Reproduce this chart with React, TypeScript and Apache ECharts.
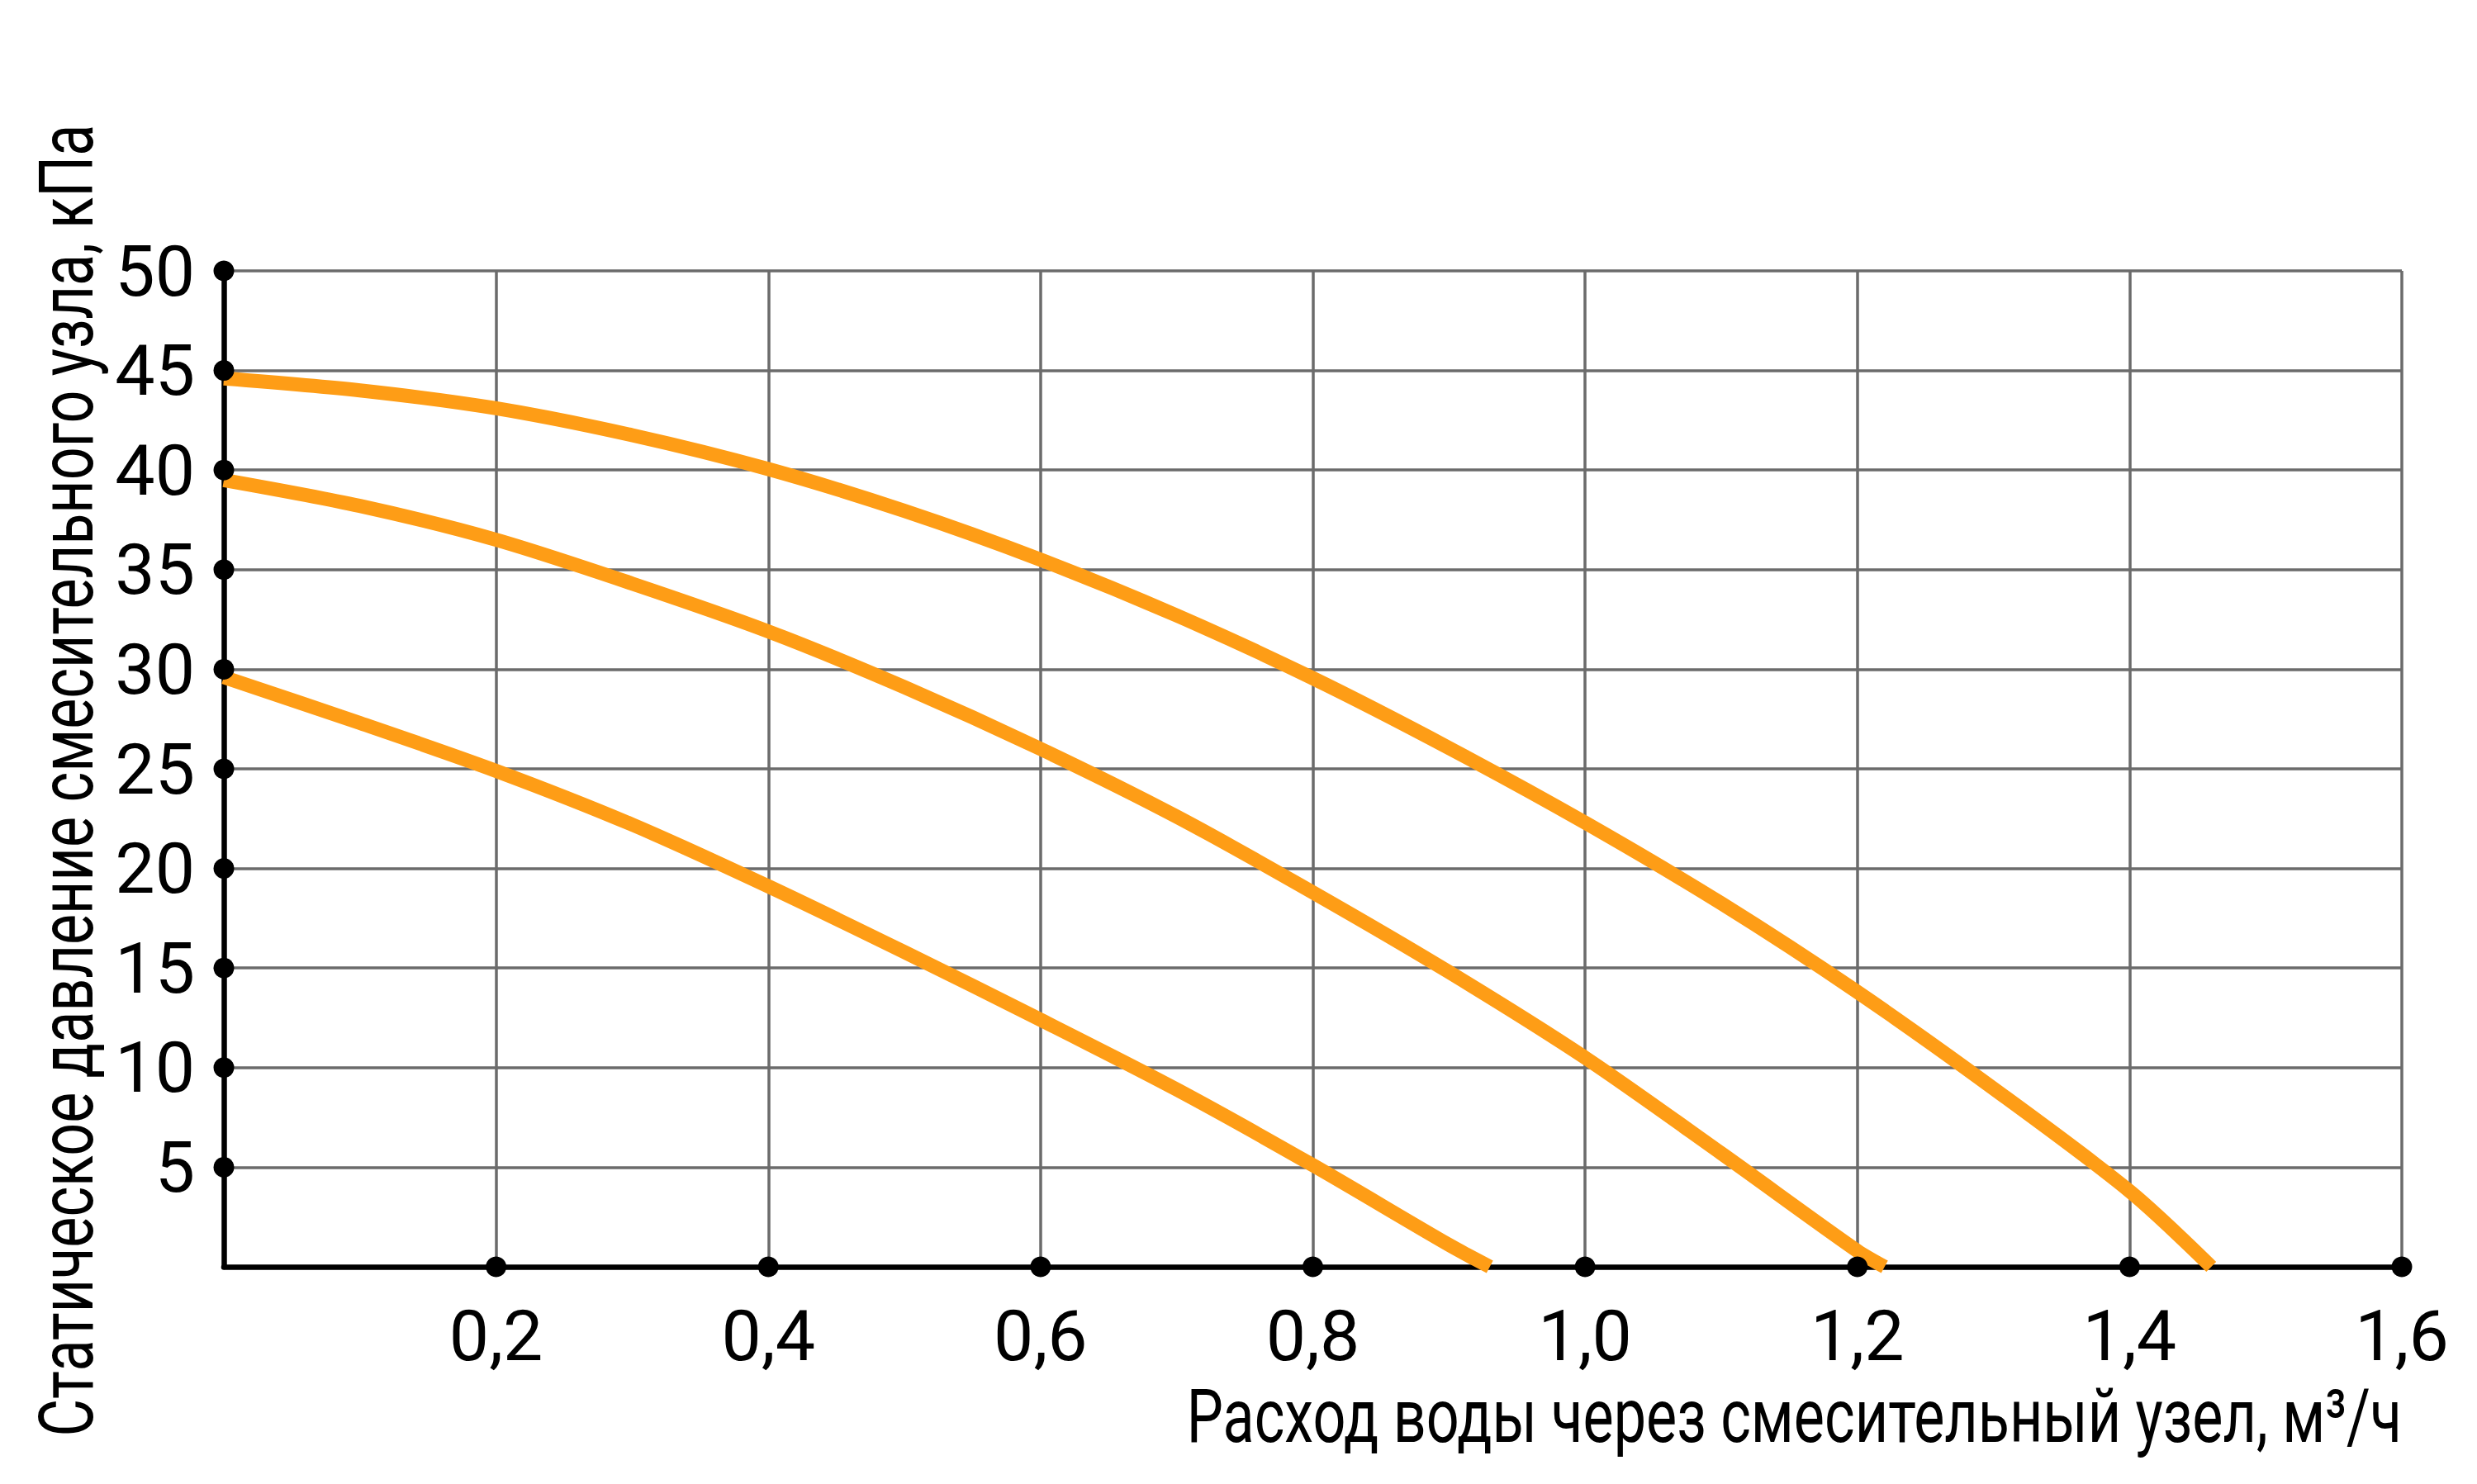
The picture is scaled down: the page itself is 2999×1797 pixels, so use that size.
import React, { useEffect, useRef } from "react";
import * as echarts from "echarts";

const FONT = "Roboto, 'Liberation Sans', sans-serif";

// Axis ticks
const xTicks = [0.2, 0.4, 0.6, 0.8, 1.0, 1.2, 1.4, 1.6];
const yTicks = [5, 10, 15, 20, 25, 30, 35, 40, 45, 50];

// Curve 1 (top)
const flowTop = [0, 0.1, 0.2, 0.3, 0.4, 0.5, 0.6, 0.7, 0.8, 0.9, 1.0, 1.1, 1.2, 1.3, 1.4, 1.46];
const pressTop = [44.6, 44.0, 43.1, 41.75, 40.05, 37.95, 35.5, 32.7, 29.55, 26.05, 22.3, 18.25, 13.8, 8.95, 3.8, 0];

// Curve 2 (middle)
const flowMid = [0, 0.1, 0.2, 0.3, 0.4, 0.5, 0.6, 0.7, 0.8, 0.9, 1.0, 1.1, 1.2, 1.22];
const pressMid = [39.5, 38.2, 36.5, 34.3, 31.9, 29.1, 26.0, 22.6, 18.8, 14.8, 10.5, 5.7, 0.8, 0];

// Curve 3 (bottom)
const flowLow = [0, 0.1, 0.2, 0.3, 0.4, 0.5, 0.6, 0.7, 0.8, 0.9, 0.93];
const pressLow = [29.6, 27.3, 24.9, 22.2, 19.1, 15.8, 12.4, 8.9, 5.1, 1.1, 0];

const yTitle = "Статическое давление смесительного узла, кПа";
const xTitle = "Расход воды через смесительный узел, м³/ч";

const ORANGE = "#FE9D16";
const GRID_GREY = "#6b6b6b";
const TITLE_SIZE = 90;

function zip(xs: number[], ys: number[]) {
  return xs.map((x, i) => [x, ys[i]]);
}

function curve(xs: number[], ys: number[]) {
  return {
    type: "line",
    data: zip(xs, ys),
    symbol: "none",
    smooth: 0.3,
    clip: true,
    lineStyle: { color: ORANGE, width: 17 },
    z: 3,
    silent: true,
  };
}

function measure(text: string, size: number) {
  const c = document.createElement("canvas").getContext("2d");
  if (!c) return text.length * size * 0.5;
  c.font = `${size}px Roboto`;
  return c.measureText(text).width;
}

export default function App() {
  const ref = useRef<HTMLDivElement>(null);
  useEffect(() => {
    document.body.style.margin = "0";
    const chart = echarts.init(ref.current!, null, { renderer: "svg" });
    const dots = yTicks.map((v) => [0, v]).concat(xTicks.map((v) => [v, 0]));
    const yScale = 1590 / measure(yTitle, TITLE_SIZE);
    const xScale = 1472 / measure(xTitle, TITLE_SIZE);
    chart.setOption({
      animation: false,
      backgroundColor: "#ffffff",
      grid: { left: 271, top: 328, right: 91, bottom: 263 },
      xAxis: {
        type: "value",
        min: 0,
        max: 1.6,
        interval: 0.2,
        axisLine: { show: true, onZero: false, lineStyle: { color: "#000", width: 6.5 } },
        axisTick: { show: false },
        splitLine: { show: true, showMinLine: false, lineStyle: { color: GRID_GREY, width: 3.5 } },
        axisLabel: {
          showMinLabel: false,
          margin: 40,
          color: "#000",
          fontFamily: FONT,
          fontSize: 86,
          formatter: (v: number) => v.toFixed(1).replace(".", ","),
        },
      },
      yAxis: {
        type: "value",
        min: 0,
        max: 50,
        interval: 5,
        axisLine: { show: true, onZero: false, lineStyle: { color: "#000", width: 6.5 } },
        axisTick: { show: false },
        splitLine: { show: true, showMinLine: false, lineStyle: { color: GRID_GREY, width: 3.5 } },
        axisLabel: {
          showMinLabel: false,
          margin: 35,
          color: "#000",
          fontFamily: FONT,
          fontSize: 86,
          formatter: (v: number) => String(v),
        },
      },
      graphic: [
        {
          type: "text",
          x: 81,
          y: 945,
          rotation: Math.PI / 2,
          scaleX: yScale,
          style: {
            text: yTitle,
            fill: "#000",
            fontFamily: FONT,
            fontSize: TITLE_SIZE,
            align: "center",
            verticalAlign: "middle",
            textAlign: "center",
            textVerticalAlign: "middle",
          },
        },
        {
          type: "text",
          x: 2908,
          y: 1715,
          scaleX: xScale,
          style: {
            text: xTitle,
            fill: "#000",
            fontFamily: FONT,
            fontSize: TITLE_SIZE,
            align: "right",
            verticalAlign: "middle",
            textAlign: "right",
            textVerticalAlign: "middle",
          },
        },
      ],
      series: [
        curve(flowTop, pressTop),
        curve(flowMid, pressMid),
        curve(flowLow, pressLow),
        {
          type: "scatter",
          data: dots,
          symbol: "circle",
          symbolSize: 25,
          itemStyle: { color: "#000", opacity: 1 },
          clip: false,
          silent: true,
          z: 6,
        },
      ],
    });
    return () => chart.dispose();
  }, []);
  return (
    <div
      ref={ref}
      style={{ position: "fixed", left: 0, top: 0, width: 2999, height: 1797, background: "#fff" }}
    />
  );
}
